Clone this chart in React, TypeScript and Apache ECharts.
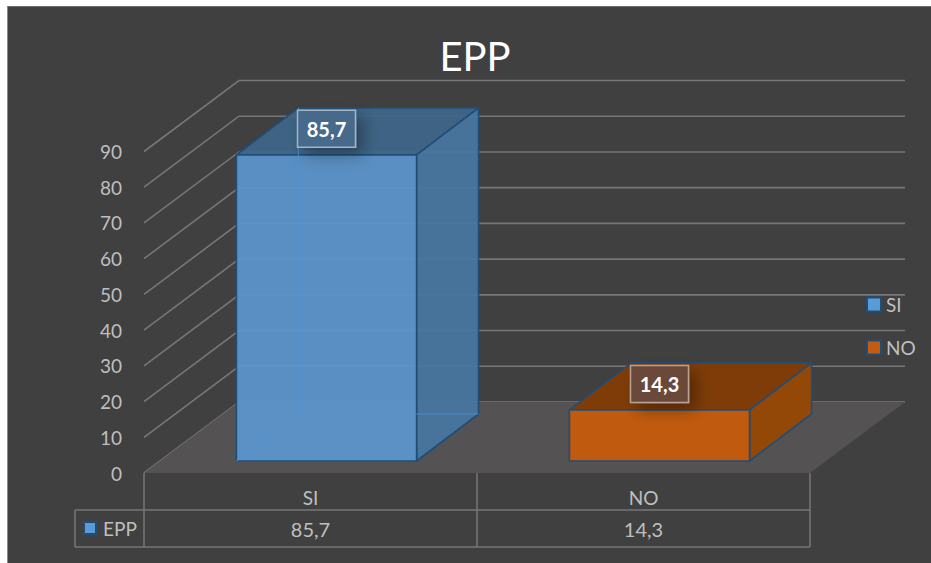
import React, { useEffect, useRef } from "react";
import * as echarts from "echarts";

const title = "EPP";
const seriesName = "EPP";
const categories = ["SI", "NO"];
const values = [85.7, 14.3];
const ticks = [0, 10, 20, 30, 40, 50, 60, 70, 80, 90];

const FONT = "Lato";
const TEXT = "#bfbfbf";
const LINE = "#767676";
const EDGE = "#1f4e79";
const WALL_DX = 95;
const WALL_DY = -71;
const BAR_SHIFT_X = 16;
const BAR_SHIFT_Y = -12;
const BAR_DX = 62;
const BAR_DY = -47;
const BAR_RATIO = 0.541;
const LEGEND_COLORS = ["#5b9bd5", "#c55a11"];
const FACES = [
  {
    front: "rgba(93,150,205,0.93)",
    side: "rgba(72,118,162,0.92)",
    top: "rgba(62,102,138,0.92)",
    hidden: "rgba(78,150,215,0.65)",
    label: "#47698c",
  },
  { front: "#c05a0e", side: "#934808", top: "#7f3c08", hidden: "", label: "#6a4a3a" },
];

const fmt = (v: number) => String(v).replace(".", ",");

const renderBar = (i: number) => (params: any, api: any) => {
  const idx = api.value(0);
  const v = api.value(1);
  const base = api.coord([idx, 0]);
  const tip = api.coord([idx, v]);
  const w = api.size([1, 0])[0] * BAR_RATIO;
  const x0 = base[0] + BAR_SHIFT_X - w / 2;
  const x1 = x0 + w;
  const yb = base[1] + BAR_SHIFT_Y;
  const yt = tip[1] + BAR_SHIFT_Y;
  const f = FACES[i];
  const stroke = { stroke: EDGE, lineWidth: 1.6, lineJoin: "round" };
  const poly = (points: number[][], fill: string) => ({
    type: "polygon",
    shape: { points },
    style: { fill, ...stroke },
  });
  const children: any[] = [
    poly([[x0, yt], [x1, yt], [x1 + BAR_DX, yt + BAR_DY], [x0 + BAR_DX, yt + BAR_DY]], f.top),
    poly([[x1, yb], [x1, yt], [x1 + BAR_DX, yt + BAR_DY], [x1 + BAR_DX, yb + BAR_DY]], f.side),
    poly([[x0, yb], [x1, yb], [x1, yt], [x0, yt]], f.front),
  ];
  if (f.hidden) {
    children.push({
      type: "polyline",
      shape: {
        points: [[x0, yb], [x0 + BAR_DX, yb + BAR_DY], [x0 + BAR_DX, yt + BAR_DY]],
      },
      style: { fill: "none", stroke: f.hidden, lineWidth: 1.2 },
    });
    children.push({
      type: "line",
      shape: { x1: x0 + BAR_DX, y1: yb + BAR_DY, x2: x1 + BAR_DX, y2: yb + BAR_DY },
      style: { stroke: f.hidden, lineWidth: 1.2 },
    });
  }
  const cx = (x0 + x1) / 2;
  const cy = yt - 26;
  children.push({
    type: "rect",
    shape: { x: cx - 29, y: cy - 18.5, width: 58, height: 37 },
    style: {
      fill: f.label,
      stroke: "rgba(255,255,255,0.5)",
      lineWidth: 1.5,
      shadowBlur: 16,
      shadowColor: "rgba(0,0,0,0.35)",
      shadowOffsetX: 7,
      shadowOffsetY: 7,
    },
  });
  children.push({
    type: "text",
    style: {
      x: cx,
      y: cy,
      text: fmt(v),
      fill: "#ffffff",
      font: `bold 20px ${FONT}`,
      align: "center",
      verticalAlign: "middle",
    },
  });
  children.push({
    type: "text",
    style: {
      x: base[0],
      y: 529,
      text: fmt(v),
      fill: TEXT,
      font: `20px ${FONT}`,
      align: "center",
      verticalAlign: "middle",
    },
  });
  return { type: "group", children };
};

const renderWallLine = (params: any, api: any) => {
  const p = api.coord([0, api.value(0)]);
  const cs = params.coordSys;
  const xl = cs.x;
  const xr = cs.x + cs.width + WALL_DX;
  return {
    type: "polyline",
    shape: { points: [[xl, p[1]], [xl + WALL_DX, p[1] + WALL_DY], [xr, p[1] + WALL_DY]] },
    style: { fill: "none", stroke: LINE, lineWidth: 1.6 },
  };
};

const renderFloor = (params: any) => {
  const cs = params.coordSys;
  const yb = cs.y + cs.height;
  const xr = cs.x + cs.width;
  return {
    type: "polygon",
    shape: {
      points: [[cs.x, yb], [xr, yb], [xr + WALL_DX, yb + WALL_DY], [cs.x + WALL_DX, yb + WALL_DY]],
    },
    style: { fill: "#545252" },
  };
};

const renderTable = (params: any, api: any) => {
  const cs = params.coordSys;
  const yb = cs.y + cs.height;
  const xr = cs.x + cs.width;
  const xm = api.coord([0, 0])[0] + api.size([1, 0])[0] / 2;
  const yMid = yb + 37;
  const yEnd = yb + 74;
  const xKey = cs.x - 69;
  const seg = (x1: number, y1: number, x2: number, y2: number) => ({
    type: "line",
    shape: { x1, y1, x2, y2 },
    style: { stroke: LINE, lineWidth: 1.5 },
  });
  return {
    type: "group",
    children: [
      seg(cs.x, yb, cs.x, yEnd),
      seg(xm, yb, xm, yEnd),
      seg(xr, yb, xr, yEnd),
      seg(xKey, yMid, xr, yMid),
      seg(xKey, yEnd, xr, yEnd),
      seg(xKey, yMid, xKey, yEnd),
      {
        type: "rect",
        shape: { x: xKey + 9, y: yMid + 12, width: 12, height: 12 },
        style: { fill: LEGEND_COLORS[0], stroke: EDGE, lineWidth: 2 },
      },
      {
        type: "text",
        style: {
          x: xKey + 28,
          y: yMid + 18.5,
          text: seriesName,
          fill: TEXT,
          font: `19px ${FONT}`,
          align: "left",
          verticalAlign: "middle",
        },
      },
    ],
  };
};

export default function App() {
  const ref = useRef<HTMLDivElement>(null);
  useEffect(() => {
    if (!ref.current) return;
    const chart = echarts.init(ref.current, undefined, { renderer: "svg" });
    chart.setOption({
      animation: false,
      title: {
        text: title,
        left: 470,
        textAlign: "center",
        top: 31,
        textStyle: { color: "#ffffff", fontSize: 40, fontWeight: "normal", fontFamily: FONT },
      },
      legend: {
        orient: "vertical",
        left: 861,
        top: 290,
        itemWidth: 14,
        itemHeight: 14,
        itemGap: 24,
        selectedMode: false,
        textStyle: { color: TEXT, fontSize: 19, fontFamily: FONT },
        data: categories.map((name, i) => ({
          name,
          icon: "rect",
          itemStyle: { color: LEGEND_COLORS[i], borderColor: EDGE, borderWidth: 2 },
        })),
      },
      grid: { left: 144, top: 151.5, width: 666, height: 321.5 },
      xAxis: {
        type: "category",
        data: categories,
        axisLine: { show: false },
        axisTick: { show: false },
        axisLabel: { color: TEXT, fontSize: 19, fontFamily: FONT, margin: 15 },
      },
      yAxis: {
        type: "value",
        min: 0,
        max: 90,
        interval: 10,
        axisLine: { show: false },
        axisTick: { show: false },
        splitLine: { show: false },
        axisLabel: { color: TEXT, fontSize: 19, fontFamily: FONT, margin: 22 },
      },
      series: [
        {
          type: "custom",
          name: "wall",
          silent: true,
          z: 1,
          renderItem: renderWallLine,
          data: ticks.map((t) => [t]),
          encode: { y: 0 },
        },
        {
          type: "custom",
          name: "floor",
          silent: true,
          z: 2,
          renderItem: renderFloor,
          data: [[0, 0]],
        },
        {
          type: "custom",
          name: "table",
          silent: true,
          z: 2,
          renderItem: renderTable,
          data: [[0, 0]],
        },
        ...categories.map((name, i) => ({
          type: "custom",
          name,
          z: 3 + i,
          renderItem: renderBar(i),
          data: [[i, values[i]]],
          encode: { x: 0, y: 1 },
        })),
      ],
    });
    return () => chart.dispose();
  }, []);
  return (
    <div style={{ position: "fixed", left: 0, top: 0, width: 931, height: 563, background: "#ffffff", overflow: "hidden" }}>
      <div
        style={{
          position: "absolute",
          left: 7,
          top: 6,
          width: 924,
          height: 557,
          boxSizing: "border-box",
          background: "#404040",
          borderLeft: "1.5px solid #8a8a8a",
          borderTop: "1.5px solid #6e6e6e",
        }}
      />
      <div ref={ref} style={{ position: "absolute", left: 0, top: 0, width: 931, height: 563 }} />
    </div>
  );
}
